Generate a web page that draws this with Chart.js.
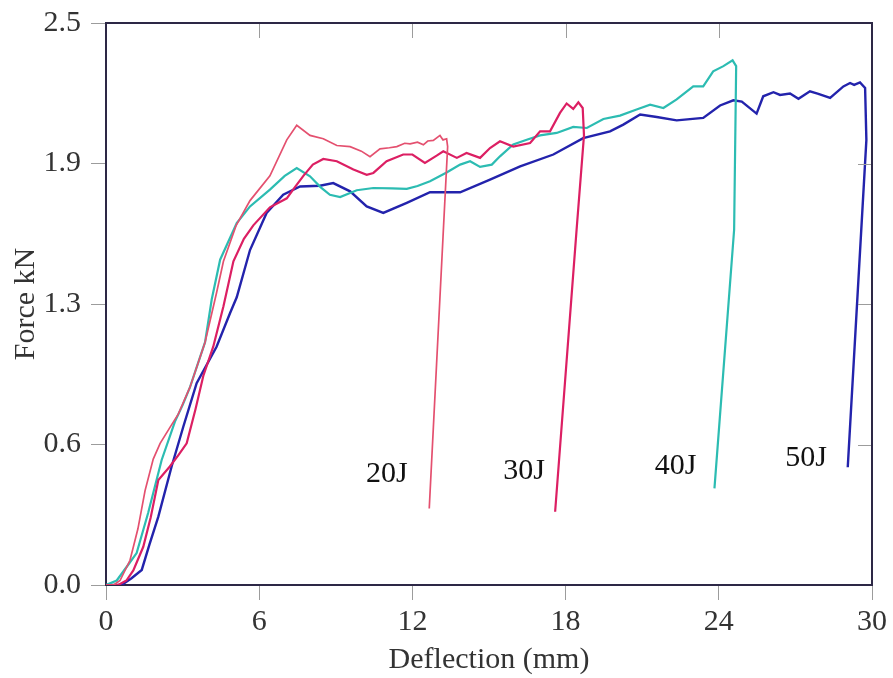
<!DOCTYPE html>
<html>
<head>
<meta charset="utf-8">
<script src="https://cdn.jsdelivr.net/npm/chart.js@4.4.1/dist/chart.umd.min.js"></script>
<style>
  html, body { margin: 0; padding: 0; background: #fff; }
</style>
</head>
<body>
<canvas id="force-chart" width="893" height="678"></canvas>
<script>
// impact energy curves: deflection (mm) vs force (kN)
const energies = ['20J', '30J', '40J', '50J'];

const defl20 = [0, 0.3, 0.55, 0.94, 1.25, 1.53, 1.85, 2.12, 2.5, 2.83, 3.29, 3.88, 4.33, 4.6, 5.1, 5.64, 6.42, 7.08, 7.47, 7.99, 8.51, 9.04, 9.56, 10.0, 10.34, 10.73, 11.1, 11.39, 11.7, 11.91, 12.2, 12.43, 12.6, 12.82, 13.08, 13.2, 13.34, 13.38, 13.2, 12.66];
const force20 = [0, 0, 0.02, 0.11, 0.25, 0.42, 0.56, 0.63, 0.7, 0.76, 0.88, 1.08, 1.3, 1.44, 1.6, 1.71, 1.82, 1.98, 2.045, 2.0, 1.985, 1.955, 1.95, 1.93, 1.905, 1.94, 1.945, 1.95, 1.965, 1.962, 1.97, 1.958, 1.975, 1.978, 2.0, 1.98, 1.985, 1.95, 1.55, 0.34];

const defl30 = [0, 0.48, 0.8, 1.07, 1.46, 1.75, 2.05, 2.5, 2.85, 3.16, 3.5, 3.81, 4.2, 4.6, 4.99, 5.4, 5.77, 6.42, 7.08, 7.4, 7.73, 8.1, 8.51, 9.04, 9.69, 10.21, 10.47, 10.99, 11.64, 12.0, 12.49, 12.95, 13.21, 13.74, 14.12, 14.65, 15.04, 15.43, 15.95, 16.61, 17.0, 17.39, 17.78, 18.04, 18.3, 18.5, 18.67, 18.72, 18.43, 17.59];
const force30 = [0, 0, 0.02, 0.065, 0.17, 0.3, 0.467, 0.527, 0.58, 0.63, 0.78, 0.93, 1.06, 1.24, 1.44, 1.54, 1.6, 1.68, 1.72, 1.77, 1.82, 1.87, 1.895, 1.885, 1.848, 1.825, 1.833, 1.885, 1.915, 1.915, 1.878, 1.91, 1.929, 1.9, 1.922, 1.9, 1.944, 1.974, 1.95, 1.966, 2.018, 2.018, 2.1, 2.142, 2.118, 2.147, 2.122, 2.0, 1.58, 0.326];

const defl40 = [0, 0.42, 0.87, 1.2, 1.65, 2.18, 2.7, 3.0, 3.29, 3.88, 4.14, 4.47, 5.12, 5.64, 6.42, 7.0, 7.47, 7.99, 8.4, 8.77, 9.17, 9.82, 10.47, 11.2, 11.78, 12.2, 12.69, 13.34, 13.87, 14.26, 14.65, 15.11, 15.43, 15.95, 16.48, 17.0, 17.65, 18.3, 18.83, 19.48, 20.13, 20.78, 21.31, 21.83, 22.35, 23.0, 23.39, 23.78, 24.18, 24.54, 24.68, 24.6, 23.83];
const force40 = [0, 0.02, 0.09, 0.142, 0.32, 0.556, 0.727, 0.8, 0.88, 1.08, 1.27, 1.447, 1.61, 1.684, 1.759, 1.82, 1.855, 1.818, 1.77, 1.736, 1.726, 1.756, 1.766, 1.764, 1.762, 1.775, 1.796, 1.835, 1.87, 1.885, 1.86, 1.87, 1.907, 1.96, 1.981, 2.0, 2.011, 2.038, 2.033, 2.073, 2.088, 2.115, 2.137, 2.122, 2.16, 2.218, 2.218, 2.285, 2.308, 2.334, 2.308, 1.58, 0.43];

const defl50 = [0, 0.61, 1.0, 1.4, 1.7, 2.05, 2.57, 3.03, 3.55, 4.33, 4.86, 5.12, 5.64, 6.29, 6.94, 7.6, 8.38, 8.9, 9.56, 10.21, 10.86, 11.78, 12.69, 13.87, 15.04, 16.22, 17.52, 18.69, 19.74, 20.26, 20.92, 21.57, 22.35, 23.39, 24.05, 24.57, 24.9, 25.48, 25.74, 26.14, 26.4, 26.79, 27.12, 27.57, 27.9, 28.36, 28.88, 29.14, 29.3, 29.53, 29.73, 29.78, 29.05];
const force50 = [0, 0, 0.03, 0.067, 0.18, 0.304, 0.527, 0.705, 0.898, 1.06, 1.21, 1.28, 1.49, 1.655, 1.736, 1.773, 1.776, 1.788, 1.751, 1.684, 1.655, 1.7, 1.747, 1.747, 1.803, 1.862, 1.915, 1.988, 2.018, 2.048, 2.093, 2.082, 2.067, 2.078, 2.133, 2.156, 2.15, 2.097, 2.174, 2.192, 2.18, 2.186, 2.163, 2.196, 2.185, 2.167, 2.218, 2.233, 2.225, 2.236, 2.211, 1.98, 0.524];

// where each energy tag sits (mm, kN)
const tagX = [11.0, 16.37, 22.31, 27.42];
const tagY = [0.494, 0.508, 0.53, 0.565];

const serif = '"Liberation Serif", "Times New Roman", serif';
const toPoints = (xs, ys) => xs.map((x, i) => ({ x, y: ys[i] }));

const frameAndTags = {
    id: 'frameAndTags',
    afterDatasetsDraw(chart) {
        const { ctx, chartArea: a, scales: { x, y } } = chart;
        ctx.save();
        // small inward ticks on top and right
        ctx.strokeStyle = '#9c9c9c';
        ctx.lineWidth = 1;
        ctx.beginPath();
        x.ticks.forEach((t) => {
            if (t.value === 0 || t.value === 30) return;
            const px = Math.round(x.getPixelForValue(t.value)) + 0.5;
            ctx.moveTo(px, a.top);
            ctx.lineTo(px, a.top + 15);
        });
        y.ticks.forEach((t) => {
            if (t.value === 0 || t.value === 2.5) return;
            const py = Math.round(y.getPixelForValue(t.value)) + 0.5;
            ctx.moveTo(a.right, py);
            ctx.lineTo(a.right - 14, py);
        });
        ctx.stroke();

        ctx.strokeStyle = '#2d2846';
        ctx.lineWidth = 2;
        ctx.beginPath();
        ctx.moveTo(a.left, a.top);
        ctx.lineTo(a.right, a.top);
        ctx.lineTo(a.right, a.bottom);
        ctx.stroke();

        ctx.fillStyle = '#111';
        ctx.font = '30px ' + serif;
        ctx.textAlign = 'center';
        ctx.textBaseline = 'middle';
        energies.forEach((name, i) => {
            ctx.fillText(name, x.getPixelForValue(tagX[i]), y.getPixelForValue(tagY[i]));
        });
        ctx.restore();
    },
};

const tickFont = { family: serif, size: 30 };

new Chart(document.getElementById('force-chart'), {
    type: 'line',
    data: {
        datasets: [
            { label: energies[0], data: toPoints(defl20, force20), borderColor: '#e4506f', borderWidth: 1.7 },
            { label: energies[1], data: toPoints(defl30, force30), borderColor: '#dc1f63', borderWidth: 2.2 },
            { label: energies[2], data: toPoints(defl40, force40), borderColor: '#2cbcb2', borderWidth: 2.2 },
            { label: energies[3], data: toPoints(defl50, force50), borderColor: '#2323ac', borderWidth: 2.4 },
        ],
    },
    options: {
        responsive: false,
        animation: false,
        layout: { padding: { top: 23, right: 21, left: 0, bottom: 0 } },
        elements: { point: { radius: 0 }, line: { tension: 0 } },
        plugins: { legend: { display: false }, tooltip: { enabled: false } },
        scales: {
            x: {
                type: 'linear',
                min: 0,
                max: 30,
                ticks: { stepSize: 6, padding: 4, font: tickFont, color: '#333' },
                grid: { drawOnChartArea: false, tickLength: 15, color: '#9c9c9c' },
                border: { color: '#2d2846', width: 2 },
                title: { display: true, text: 'Deflection (mm)', font: tickFont, color: '#333', padding: 0 },
                afterFit: (s) => {
                    s.height = 93;
                    s.paddingLeft = 0;
                    s.paddingRight = 0;
                },
            },
            y: {
                min: 0,
                max: 2.5,
                ticks: { stepSize: 0.625, padding: 10, font: tickFont, color: '#333', callback: (v) => v.toFixed(1) },
                grid: { drawOnChartArea: false, tickLength: 15, color: '#9c9c9c' },
                border: { color: '#2d2846', width: 2 },
                title: { display: true, text: 'Force kN', font: tickFont, color: '#333', padding: { top: 8, bottom: 0 } },
                afterFit: (s) => {
                    s.width = 106;
                    s.paddingTop = 0;
                    s.paddingBottom = 0;
                },
            },
        },
    },
    plugins: [frameAndTags],
});
</script>
</body>
</html>
